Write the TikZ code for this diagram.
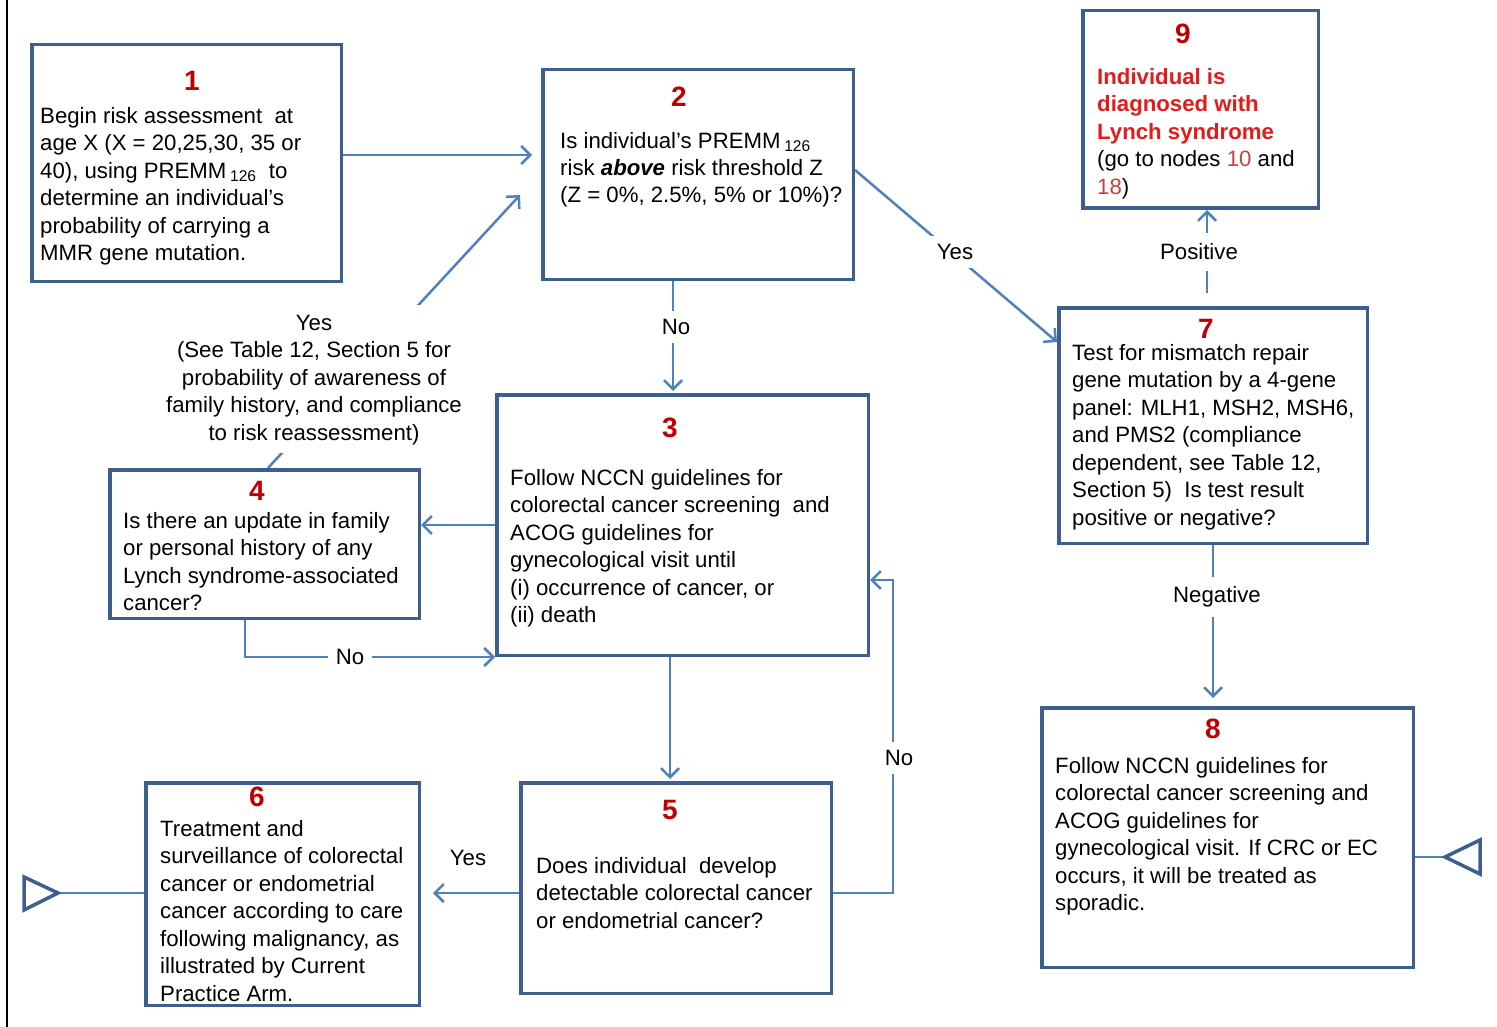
\documentclass[tikz,border=0pt]{standalone}
\usepackage{fontspec}
\setmainfont{Liberation Sans}
\usetikzlibrary{arrows.meta}
\definecolor{boxc}{HTML}{3D5F8E}
\definecolor{arrc}{HTML}{4F81BD}
\definecolor{numc}{HTML}{C00000}
\definecolor{hotred}{HTML}{E41B1B}
\definecolor{refred}{HTML}{C9413F}
% fixed height for the first line of every text block
\newcommand{\topstr}{\rule{0pt}{17pt}}
\pgfdeclarelayer{bg}
\pgfsetlayers{bg,main}

\begin{document}
\begin{tikzpicture}[x=1pt,y=-1pt,
  box/.style={draw=boxc, line width=3.5pt, fill=white, anchor=north west, inner sep=0pt},
  num/.style={text=numc, font=\fontsize{28}{30}\selectfont\bfseries, inner sep=0pt},
  txt/.style={anchor=north west, align=left, inner sep=0pt, font=\fontsize{22.2}{27.5}\selectfont},
  lbl/.style={fill=white, inner sep=8pt, font=\fontsize{22.2}{27.5}\selectfont},
  conn/.style={draw=arrc, line width=2.5pt},
  arr/.style={conn, -{Straight Barb[length=9pt,width=18pt]}},
  tri/.style={draw=boxc, line width=3.5pt, line join=miter}]

\useasboundingbox (0,0) rectangle (1497,1027);
\draw[line width=2.5pt] (7,0) -- (7,1027);

% ---------- boxes ----------
\node[box, minimum width=309.5pt, minimum height=236.5pt] (n1) at (30,43) {};
\node[box, minimum width=310.5pt, minimum height=209.5pt] (n2) at (541,68) {};
\node[box, minimum width=371.5pt, minimum height=260.5pt] (n3) at (495,393) {};
\node[box, minimum width=309.5pt, minimum height=148.5pt] (n4) at (108,468) {};
\node[box, minimum width=310.5pt, minimum height=210.5pt] (n5) at (519,781) {};
\node[box, minimum width=273.5pt, minimum height=222.5pt] (n6) at (144,781) {};
\node[box, minimum width=308.5pt, minimum height=235.5pt] (n7) at (1057,306) {};
\node[box, minimum width=371.5pt, minimum height=259.5pt] (n8) at (1040,706) {};
\node[box, minimum width=235.5pt, minimum height=197.5pt] (n9) at (1081,9) {};

% ---------- step numbers ----------
\node[num] (k1) at (192,81) {1};
\node[num] (k2) at (679,97) {2};
\node[num] (k3) at (670,428) {3};
\node[num] (k4) at (257,491) {4};
\node[num] (k5) at (670,810) {5};
\node[num] (k6) at (257,797) {6};
\node[num] (k7) at (1206,329) {7};
\node[num] (k8) at (1213,729) {8};
\node[num] (k9) at (1183,34) {9};

% ---------- box texts ----------
\node[txt] (t1) at (40,106) {\topstr Begin risk assessment\ \ at\\
  age X (X = 20,25,30, 35 or\\
  40), using PREMM\,\textsubscript{126}\ \ to\\
  determine an individual's\\
  probability of carrying a\\
  MMR gene mutation.};
\node[txt, font=\fontsize{22.2}{27}\selectfont] (t2) at (560,131) {\topstr Is individual's PREMM\,\textsubscript{126}\\
  risk \textbf{\textit{above}} risk threshold Z\\
  (Z = 0\%, 2.5\%, 5\% or 10\%)?};
\node[txt] (t3) at (510,468) {\topstr Follow NCCN guidelines for\\
  colorectal cancer screening\ \ and\\
  ACOG guidelines for\\
  gynecological visit until\\
  (i) occurrence of cancer, or\\
  (ii) death};
\node[txt] (t4) at (123,511) {\topstr Is there an update in family\\
  or personal history of any\\
  Lynch syndrome-associated\\
  cancer?};
\node[txt] (t5) at (536,856) {\topstr Does individual\ \ develop\\
  detectable colorectal cancer\\
  or endometrial cancer?};
\node[txt] (t6) at (160,819) {\topstr Treatment and\\
  surveillance of colorectal\\
  cancer or endometrial\\
  cancer according to care\\
  following malignancy, as\\
  illustrated by Current\\
  Practice Arm.};
\node[txt] (t7) at (1072,343) {\topstr Test for mismatch repair\\
  gene mutation by a 4-gene\\
  panel: MLH1, MSH2, MSH6,\\
  and PMS2 (compliance\\
  dependent, see Table 12,\\
  Section 5)\ \ Is test result\\
  positive or negative?};
\node[txt] (t8) at (1055,756) {\topstr Follow NCCN guidelines for\\
  colorectal cancer screening and\\
  ACOG guidelines for\\
  gynecological visit. If CRC or EC\\
  occurs, it will be treated as\\
  sporadic.};
\node[txt] (t9) at (1097,67) {\topstr\textcolor{hotred}{\textbf{Individual is}}\\
  \textcolor{hotred}{\textbf{diagnosed with}}\\
  \textcolor{hotred}{\textbf{Lynch syndrome}}\\
  (go to nodes \textcolor{refred}{10} and\\
  \textcolor{refred}{18})};

% ---------- connector labels ----------
\node[lbl, align=center, anchor=north] (l42) at (314,305) {\topstr Yes\\
  (See Table 12, Section 5 for\\
  probability of awareness of\\
  family history, and compliance\\
  to risk reassessment)};
\node[lbl] (l27) at (955,252) {Yes};
\node[lbl] (l23) at (676,327) {No};
\node[lbl] (l43) at (350,657) {No};
\node[lbl, fill=none] (l56) at (468,858) {Yes};
\node[lbl] (l53) at (899,758) {No};
\node[lbl, inner ysep=11pt] (l79) at (1199,252) {Positive};
\node[lbl, inner ysep=10pt] (l78) at (1217,597) {Negative};

% ---------- end markers ----------
\coordinate (tipL) at (58,893);
\draw[tri] (24,877) -- (tipL) -- (24,910) -- cycle;
\coordinate (tipR) at (1445,857);
\draw[tri] (1480,840) -- (tipR) -- (1480,874) -- cycle;
\coordinate (a2) at (520,195);

% ---------- connectors (under boxes and labels) ----------
\begin{pgfonlayer}{bg}
\fill[white] (0,0) rectangle (1497,1027);
\draw[arr, shorten >=9pt] (n1.east |- 0,155) -- (n2.west |- 0,155);
\draw[arr] (n2.east |- 0,170) -- (n7.west |- 0,342);
\draw[arr, shorten >=2pt] (n2.south -| 673,0) -- (n3.north -| 673,0);
\draw[arr] (n4.north -| 268,0) -- (a2);
\draw[arr] (n3.west |- 0,525) -- (n4.east |- 0,525);
\draw[arr] (n4.south -| 245,0) |- (n3.south west);
\draw[arr, shorten >=2pt] (n3.south -| 670,0) -- (n5.north -| 670,0);
\draw[arr, shorten >=12pt] (n5.west |- 0,893) -- (n6.east |- 0,893);
\draw[arr] (n5.east |- 0,893) -- ++(60,0) |- (n3.east |- 0,580);
\draw[arr, shorten <=13pt] (n7.north -| 1207,0) -- (n9.south -| 1207,0);
\draw[arr, shorten >=8pt] (n7.south -| 1213,0) -- (n8.north -| 1213,0);
\draw[conn] (tipL) -- (n6.west |- tipL);
\draw[conn] (n8.east |- tipR) -- (tipR);
\end{pgfonlayer}
\end{tikzpicture}
\end{document}
